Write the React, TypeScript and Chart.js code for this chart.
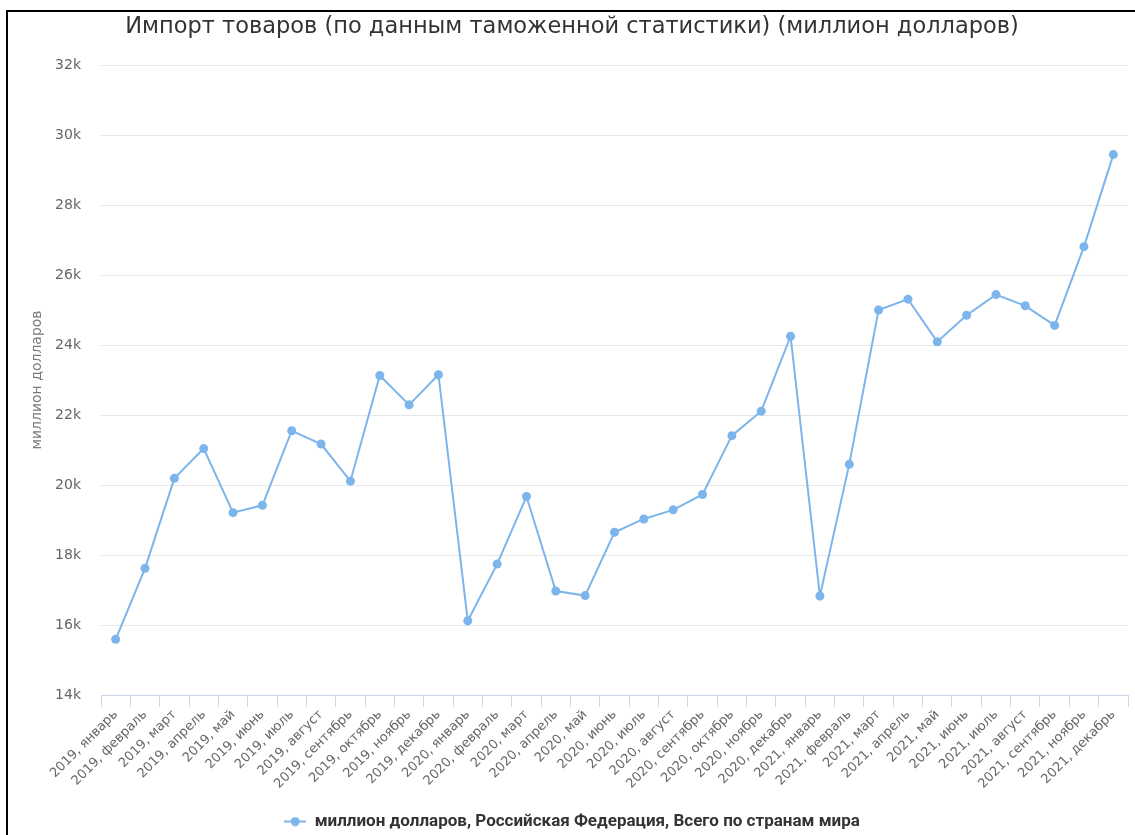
import React, { useEffect, useRef } from "react";
import { Chart, registerables } from "chart.js";

Chart.register(...registerables);

const titleText = "Импорт товаров (по данным таможенной статистики) (миллион долларов)";
const yAxisTitle = "миллион долларов";
const seriesName = "миллион долларов, Российская Федерация, Всего по странам мира";

const categories = [
  "2019, январь", "2019, февраль", "2019, март", "2019, апрель", "2019, май", "2019, июнь",
  "2019, июль", "2019, август", "2019, сентябрь", "2019, октябрь", "2019, ноябрь", "2019, декабрь",
  "2020, январь", "2020, февраль", "2020, март", "2020, апрель", "2020, май", "2020, июнь",
  "2020, июль", "2020, август", "2020, сентябрь", "2020, октябрь", "2020, ноябрь", "2020, декабрь",
  "2021, январь", "2021, февраль", "2021, март", "2021, апрель", "2021, май", "2021, июнь",
  "2021, июль", "2021, август", "2021, сентябрь", "2021, ноябрь", "2021, декабрь",
];

const values = [
  15590, 17620, 20190, 21040, 19210, 19420, 21550, 21170, 20110, 23130, 22290, 23150,
  16120, 17740, 19670, 16970, 16840, 18650, 19030, 19290, 19730, 21410, 22110, 24250,
  16830, 20590, 25000, 25310, 24090, 24850, 25440, 25120, 24560, 26810, 29440,
];

const yMin = 14000;
const yMax = 32000;
const yStep = 2000;

const LINE_COLOR = "#7cb5ec";

function makeMarker(): HTMLCanvasElement {
  const c = document.createElement("canvas");
  c.width = 22;
  c.height = 10;
  const ctx = c.getContext("2d")!;
  ctx.strokeStyle = LINE_COLOR;
  ctx.lineWidth = 2;
  ctx.beginPath();
  ctx.moveTo(0, 5);
  ctx.lineTo(22, 5);
  ctx.stroke();
  ctx.fillStyle = LINE_COLOR;
  ctx.beginPath();
  ctx.arc(11, 5, 4.5, 0, Math.PI * 2);
  ctx.fill();
  return c;
}

export default function App() {
  const canvasRef = useRef<HTMLCanvasElement | null>(null);

  useEffect(() => {
    if (!canvasRef.current) return;
    const marker = makeMarker();
    const chart = new Chart(canvasRef.current, {
      type: "line",
      data: {
        labels: categories,
        datasets: [
          {
            label: seriesName,
            data: values,
            borderColor: LINE_COLOR,
            backgroundColor: LINE_COLOR,
            borderWidth: 2,
            pointRadius: 4.5,
            pointBorderWidth: 0,
            pointBackgroundColor: LINE_COLOR,
            tension: 0,
          },
        ],
      },
      options: {
        animation: false,
        responsive: true,
        maintainAspectRatio: false,
        layout: { padding: { top: 0, left: 16, right: 7, bottom: 0 } },
        plugins: {
          title: {
            display: true,
            text: titleText,
            color: "#333333",
            font: { family: "'DejaVu Sans'", size: 22.5, weight: "normal" },
            padding: { top: 13.5, bottom: 24.5 },
          },
          legend: {
            display: true,
            position: "bottom",
            labels: {
              color: "#333333",
              font: { family: "Roboto", size: 17, weight: "bold" },
              usePointStyle: true,
              pointStyleWidth: 22,
              padding: 10,
              generateLabels: (ch: any) => {
                const items = (Chart.defaults.plugins.legend.labels as any).generateLabels(ch);
                items.forEach((it: any) => {
                  it.pointStyle = marker;
                });
                return items;
              },
            },
          },
          tooltip: { enabled: false },
        },
        scales: {
          x: {
            type: "category",
            offset: true,
            afterFit: (scale: any) => {
              scale.height = 108;
            },
            grid: {
              offset: true,
              drawOnChartArea: false,
              drawTicks: true,
              tickLength: 12,
              tickColor: "#ccd6eb",
              tickWidth: 1,
            },
            border: { display: true, color: "#ccd6eb", width: 1 },
            ticks: {
              autoSkip: false,
              maxRotation: 45,
              minRotation: 45,
              padding: 0,
              color: "#666666",
              font: { family: "'DejaVu Sans'", size: 13 },
            },
          },
          y: {
            min: yMin,
            max: yMax,
            afterFit: (scale: any) => {
              scale.width = 85;
            },
            grid: {
              color: "#e6e6e6",
              lineWidth: 1,
              drawTicks: false,
            },
            border: { display: false },
            ticks: {
              stepSize: yStep,
              padding: 20,
              color: "#666666",
              font: { family: "'DejaVu Sans'", size: 14 },
              callback: (v: any) => `${Number(v) / 1000}k`,
            },
            title: {
              display: true,
              text: yAxisTitle,
              color: "#7a7a7a",
              font: { family: "'DejaVu Sans'", size: 14 },
              padding: { top: 12.5, bottom: 0 },
            },
          },
        },
      },
    });
    return () => chart.destroy();
  }, []);

  return (
    <div style={{ position: "absolute", left: 0, top: 0, width: 1135, height: 835, background: "#fff", overflow: "hidden" }}>
      <div
        style={{
          position: "absolute",
          left: 6,
          top: 10,
          width: 1129,
          height: 825,
          borderTop: "2px solid #000",
          borderLeft: "2px solid #000",
          boxSizing: "border-box",
        }}
      />
      <div style={{ position: "absolute", left: 0, top: 0, width: 1135, height: 840 }}>
        <canvas ref={canvasRef} />
      </div>
    </div>
  );
}
